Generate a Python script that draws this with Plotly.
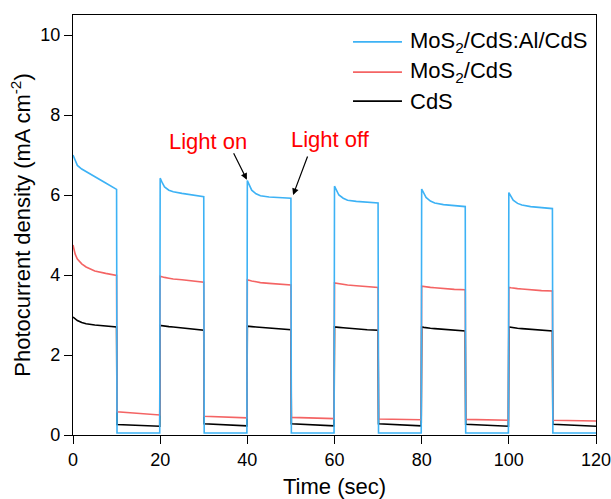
import plotly.graph_objects as go

# shared time axis (sec)
time = [
    0, 0.5, 1, 2, 3, 5, 7.5, 10, 10.1, 19.9,
    20, 20.5, 21, 22, 23, 25, 27.5, 30, 30.1, 39.9,
    40, 40.5, 41, 42, 43, 45, 47.5, 50, 50.1, 59.9,
    60, 60.5, 61, 62, 63, 65, 67.5, 70, 70.1, 79.9,
    80, 80.5, 81, 82, 83, 85, 87.5, 90, 90.1, 99.9,
    100, 100.5, 101, 102, 103, 105, 107.5, 110, 110.1, 120,
]

mos2_cds_al_cds = [
    7.00, 6.85, 6.74, 6.65, 6.59, 6.46, 6.30, 6.14, 0.05, 0.05,
    6.42, 6.30, 6.20, 6.12, 6.08, 6.04, 6.00, 5.96, 0.05, 0.05,
    6.36, 6.22, 6.12, 6.03, 5.98, 5.95, 5.94, 5.92, 0.05, 0.05,
    6.22, 6.10, 6.00, 5.92, 5.87, 5.84, 5.82, 5.80, 0.05, 0.05,
    6.15, 6.03, 5.94, 5.85, 5.80, 5.76, 5.73, 5.71, 0.05, 0.05,
    6.06, 5.95, 5.87, 5.79, 5.75, 5.71, 5.68, 5.66, 0.05, 0.05,
]

mos2_cds = [
    4.75, 4.52, 4.40, 4.28, 4.20, 4.10, 4.04, 3.99, 0.58, 0.50,
    3.97, 3.95, 3.94, 3.92, 3.90, 3.88, 3.85, 3.82, 0.47, 0.43,
    3.88, 3.86, 3.85, 3.83, 3.81, 3.79, 3.77, 3.75, 0.44, 0.41,
    3.80, 3.79, 3.78, 3.76, 3.75, 3.73, 3.71, 3.69, 0.40, 0.38,
    3.72, 3.71, 3.70, 3.69, 3.68, 3.66, 3.64, 3.63, 0.39, 0.37,
    3.69, 3.68, 3.67, 3.66, 3.65, 3.63, 3.61, 3.60, 0.37, 0.35,
]

cds = [
    2.95, 2.90, 2.86, 2.81, 2.78, 2.75, 2.72, 2.70, 0.26, 0.22,
    2.74, 2.73, 2.72, 2.71, 2.70, 2.68, 2.65, 2.62, 0.28, 0.23,
    2.72, 2.71, 2.71, 2.70, 2.69, 2.67, 2.65, 2.63, 0.28, 0.23,
    2.70, 2.69, 2.69, 2.68, 2.67, 2.65, 2.63, 2.62, 0.28, 0.23,
    2.70, 2.69, 2.68, 2.67, 2.66, 2.64, 2.62, 2.60, 0.27, 0.22,
    2.70, 2.69, 2.68, 2.67, 2.66, 2.64, 2.62, 2.60, 0.27, 0.22,
]

series_names = ["CdS", "MoS<sub>2</sub>/CdS", "MoS<sub>2</sub>/CdS:Al/CdS"]
series_values = [cds, mos2_cds, mos2_cds_al_cds]
series_colors = ["#000000", "#F46464", "#3DB2F5"]

x_ticks = [0, 20, 40, 60, 80, 100, 120]
y_ticks = [0, 2, 4, 6, 8, 10]

fig = go.Figure()
for name, vals, col in zip(series_names, series_values, series_colors):
    fig.add_trace(go.Scatter(x=time, y=vals, mode="lines", name=name,
                             line=dict(color=col, width=1.6), showlegend=False))

font_family = "Liberation Sans, Arial, sans-serif"

fig.update_layout(
    width=611, height=499,
    margin=dict(l=73, r=15, t=15, b=64),
    paper_bgcolor="white", plot_bgcolor="white",
    font=dict(family=font_family, color="black", size=18),
    showlegend=False,
)

axis_common = dict(showline=True, linecolor="black", linewidth=1.3, mirror=True,
                   ticks="outside", ticklen=8, tickwidth=1.3, tickcolor="black",
                   showgrid=False, zeroline=False, tickfont=dict(size=18),
                   automargin=False, ticklabeloverflow="allow")

fig.update_xaxes(range=[0, 120], tickvals=x_ticks,
                 title=dict(text="Time (sec)", font=dict(size=22), standoff=9),
                 **axis_common)
fig.update_yaxes(range=[0, 10.5], tickvals=y_ticks,
                 title=dict(text="Photocurrent density (mA cm<sup>-2</sup>)", font=dict(size=22), standoff=3),
                 **axis_common)

# hand-placed legend (top-right, inside), order: blue, red, black
legend_rows_y = [0.936, 0.864, 0.795]
for row_y, idx in zip(legend_rows_y, [2, 1, 0]):
    fig.add_shape(type="line", xref="paper", yref="paper",
                  x0=0.5354, x1=0.629, y0=row_y, y1=row_y,
                  line=dict(color=series_colors[idx], width=1.6))
    fig.add_annotation(xref="paper", yref="paper", x=0.6405, y=row_y,
                       text=series_names[idx], showarrow=False,
                       xanchor="left", yanchor="middle", font=dict(size=22))

# labels
fig.add_annotation(x=40.4, y=7.35, text="Light on", showarrow=False,
                   font=dict(color="red", size=22), xanchor="right", yanchor="middle")
fig.add_annotation(x=59.0, y=7.38, text="Light off", showarrow=False,
                   font=dict(color="red", size=22), xanchor="center", yanchor="middle")
# arrows
fig.add_annotation(x=39.9, y=6.38, text="", showarrow=True, arrowhead=2, arrowsize=1.1,
                   arrowwidth=1.2, arrowcolor="black", ax=-14, ay=-28)
fig.add_annotation(x=50.5, y=6.0, text="", showarrow=True, arrowhead=2, arrowsize=1.1,
                   arrowwidth=1.2, arrowcolor="black", ax=15, ay=-40)

fig.write_html("out.html")
